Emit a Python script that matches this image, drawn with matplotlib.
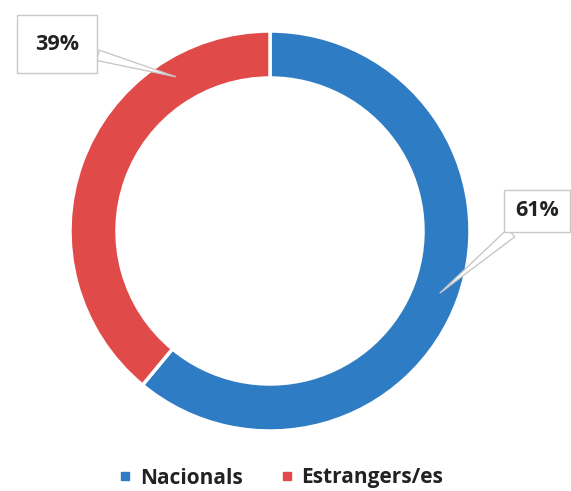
import matplotlib
matplotlib.use("Agg")
import matplotlib.pyplot as plt
import numpy as np

categories = ["Nacionals", "Estrangers/es"]
values = [61, 39]
labels = ["61%", "39%"]
colors = ["#2e7cc4", "#e04a48"]

W, H = 571, 491
fig = plt.figure(figsize=(W / 100, H / 100), dpi=100)
ax = fig.add_axes([0, 0, 1, 1])
cx, cy, scale = 270, 231, 200

wedges, _ = ax.pie(values, colors=colors, startangle=90, counterclock=False,
                   radius=1.0, wedgeprops=dict(width=0.235, edgecolor="white", linewidth=2.5),
                   frame=False)
ax.set_xlim(-cx / scale, (W - cx) / scale)
ax.set_ylim((cy - H) / scale, cy / scale)
ax.set_aspect("auto")
ax.axis("off")

font = ["Open Sans", "DejaVu Sans"]
tip_angles = [-20.0, 121.5]
text_pos = [(1.335, 0.1), (-1.065, 0.935)]
pads = [0.5, 0.85]
for i, w in enumerate(wedges):
    ang = np.deg2rad(tip_angles[i])
    r = 0.905
    tip = (r * np.cos(ang), r * np.sin(ang))
    ax.annotate(labels[i], xy=tip, xytext=text_pos[i], ha="center", va="center",
                fontsize=15.5, fontweight="bold", color="#222222", family=font,
                bbox=dict(boxstyle=f"square,pad={pads[i]}", fc="white", ec="#c8c8c8", lw=1),
                arrowprops=dict(arrowstyle="wedge,tail_width=0.5,shrink_factor=0.5",
                                fc="white", ec="#c8c8c8", lw=1, shrinkA=0, shrinkB=0))

handles = [plt.Line2D([], [], marker="s", linestyle="none", markersize=6,
                      markerfacecolor=c, markeredgecolor=c) for c in colors]
leg = fig.legend(handles, categories, loc="center", bbox_to_anchor=(278 / W, 1 - 478 / H),
                 ncol=2, frameon=False, handletextpad=0.1, columnspacing=1.5,
                 handlelength=1.2, prop=dict(family=font, weight="bold", size=15))
for t in leg.get_texts():
    t.set_color("#222222")

fig.savefig("out.png", dpi=100, facecolor="white")
